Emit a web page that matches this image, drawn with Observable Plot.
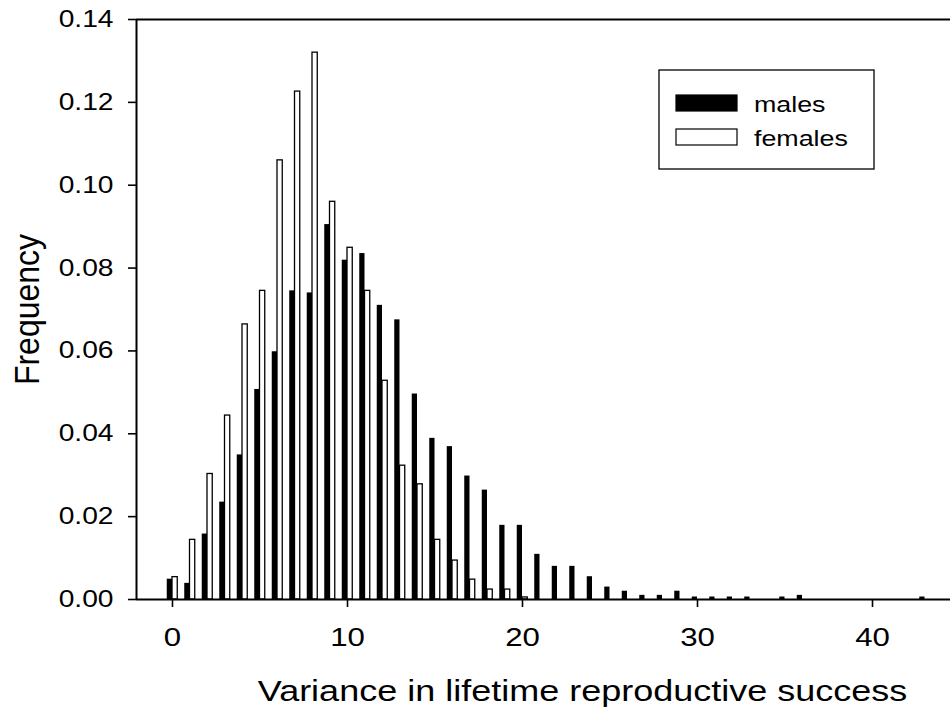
<!DOCTYPE html>
<html><head><meta charset="utf-8">
<script src="https://cdn.jsdelivr.net/npm/d3@7"></script>
<script src="https://cdn.jsdelivr.net/npm/@observablehq/plot@0.6"></script>
<style>
body{margin:0;background:#fff;}
#wrap{position:relative;width:950px;height:708px;overflow:hidden;background:#fff;}
#legend{position:absolute;left:0;top:0;pointer-events:none;}
</style></head><body><div id="wrap"></div>
<script>
// Data
const varianceMales = [0,1,2,3,4,5,6,7,8,9,10,11,12,13,14,15,16,17,18,19,20,21,22,23,24,25,26,27,28,29,30,31,32,33,35,36,43];
const freqMales = [0.0049,0.0039,0.0158,0.0235,0.0349,0.0507,0.0598,0.0745,0.0740,0.0905,0.0819,0.0835,0.0710,0.0675,0.0496,0.0389,0.0369,0.0298,0.0264,0.0179,0.0179,0.0109,0.0080,0.0080,0.0055,0.0030,0.0020,0.0010,0.0010,0.0020,0.0006,0.0006,0.0006,0.0006,0.0006,0.0010,0.0006];
const varianceFemales = [0,1,2,3,4,5,6,7,8,9,10,11,12,13,14,15,16,17,18,19,20];
const freqFemales = [0.0054,0.0144,0.0303,0.0444,0.0664,0.0745,0.1060,0.1226,0.1320,0.0960,0.0849,0.0745,0.0528,0.0323,0.0278,0.0144,0.0094,0.0048,0.0024,0.0024,0.0005];
const seriesNames = ["males","females"];
const xTicks = [0,10,20,30,40];
const yTicks = [0,0.02,0.04,0.06,0.08,0.10,0.12,0.14];
const xLabel = "Variance in lifetime reproductive success";
const yLabel = "Frequency";

const xDomain = [-2.057, 44.457];
const yDomain = [0, 0.14];
const BW = 0.3;          // bar width in data units
const STRETCH = 1.2;     // horizontal text stretch seen in the reference
const FONT = "'Liberation Sans', Arial, Helvetica, sans-serif";

const males = varianceMales.map((v, i) => ({v, f: freqMales[i]}));
const females = varianceFemales.map((v, i) => ({v, f: freqFemales[i]}));

const svg = Plot.plot({
  width: 950, height: 708,
  marginLeft: 136, marginRight: 0, marginTop: 19, marginBottom: 109,
  style: {fontFamily: FONT, background: "white", color: "black", overflow: "visible"},
  x: {domain: xDomain},
  y: {domain: yDomain},
  marks: [
    Plot.rect(males, {x1: d => d.v - BW, x2: d => d.v, y1: 0, y2: "f", fill: "black"}),
    Plot.rect(females, {x1: d => d.v, x2: d => d.v + BW, y1: 0, y2: "f", fill: "white", stroke: "black", strokeWidth: 1.3}),
    Plot.axisX({ticks: xTicks, tickSize: 8, tickPadding: 20, fontSize: 26, tickFormat: d => String(d), label: null, strokeWidth: 1.6}),
    Plot.axisY({ticks: yTicks, tickSize: 8, tickPadding: 15, fontSize: 23.5, tickFormat: d3.format(".2f"), label: null, strokeWidth: 1.6}),
    Plot.ruleY([yDomain[0]], {strokeWidth: 2}),
    Plot.ruleY([yDomain[1]], {strokeWidth: 2}),
    Plot.ruleX([xDomain[0]], {strokeWidth: 2}),
    Plot.text([yLabel], {text: d => d, frameAnchor: "left", textAnchor: "middle", lineAnchor: "middle", rotate: -90, dx: -109, fontSize: 32, className: "ylab"}),
    Plot.text([xLabel], {text: d => d, frameAnchor: "bottom", textAnchor: "middle", lineAnchor: "middle", dx: 39, dy: 92, fontSize: 30})
  ]
});

// stretch text horizontally, as in the reference
svg.querySelectorAll("text").forEach(t => {
  const tr = t.getAttribute("transform") || "";
  if (/rotate/.test(tr)) t.setAttribute("transform", tr + ` scale(1,1.1)`);
  else t.setAttribute("transform", tr + ` scale(${STRETCH},1)`);
});

const wrap = document.getElementById("wrap");
wrap.appendChild(svg);

// Legend overlay
const leg = d3.select(wrap).append("svg").attr("id", "legend").attr("width", 950).attr("height", 708);
leg.append("rect").attr("x", 659).attr("y", 70).attr("width", 215).attr("height", 99)
  .attr("fill", "white").attr("stroke", "black").attr("stroke-width", 1.3);
const fills = {males: "black", females: "white"};
seriesNames.forEach((name, i) => {
  const g = leg.append("g").attr("transform", `translate(676,${95 + i * 34})`);
  g.append("rect").attr("x", 0).attr("y", 0).attr("width", 61).attr("height", 16)
    .attr("fill", fills[name]).attr("stroke", "black").attr("stroke-width", 1.2);
  g.append("text").attr("transform", `translate(78,16.5) scale(1.22,1)`)
    .attr("font-family", FONT).attr("font-size", 22).attr("fill", "black").text(name);
});
</script></body></html>
